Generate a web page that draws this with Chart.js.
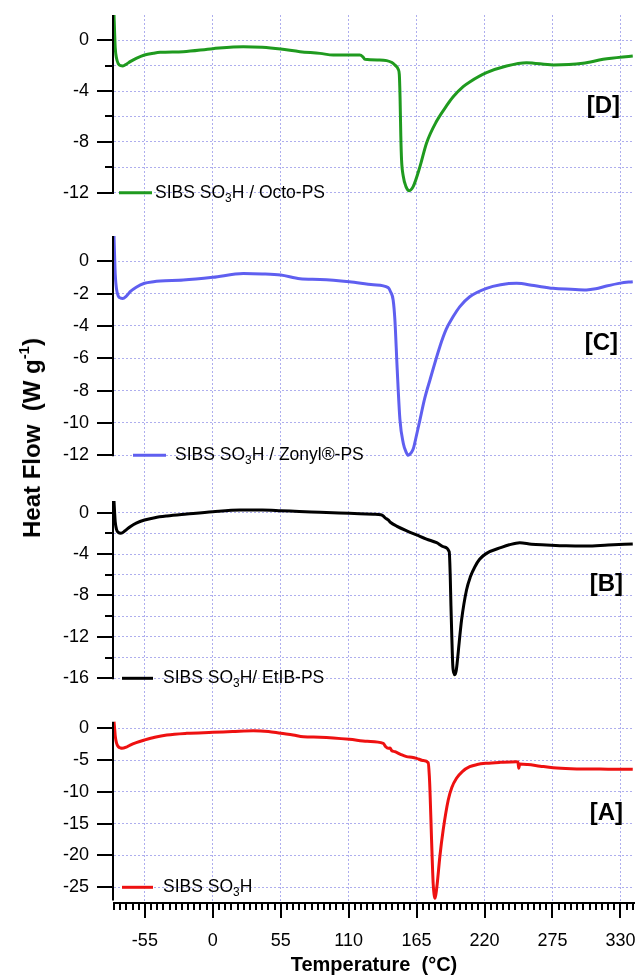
<!DOCTYPE html>
<html><head><meta charset="utf-8">
<script src="https://cdn.jsdelivr.net/npm/chart.js@4/dist/chart.umd.min.js"></script>
<style>
html,body{margin:0;padding:0;background:#fff;}
#wrap{position:relative;width:639px;height:978px;overflow:hidden;font-family:"Liberation Sans",Arial,Helvetica,sans-serif;}
canvas{position:absolute;left:0;top:0;}
.lbl{position:absolute;white-space:nowrap;color:#000;line-height:1;}
.leg{font-size:17.5px;transform:translateY(-50%);}
.leg sub{font-size:0.68em;vertical-align:-0.3em;line-height:0;}
.pan{font-size:24px;font-weight:bold;transform:translate(-100%,-50%);}
#ytitle{font-size:24px;font-weight:bold;transform:translate(-50%,-50%) rotate(-90deg);}
#ytitle sup{font-size:0.62em;vertical-align:0.75em;line-height:0;}
</style></head><body>
<div id="wrap"><canvas id="c" width="639" height="978"></canvas>
<div id="ytitle" class="lbl">Heat Flow&nbsp; (W g<sup>-1</sup>)</div>
</div>
<script>
// ---------------- DATA ----------------
const panelNames = ['[D]', '[C]', '[B]', '[A]'];
const seriesNames = [
  'SIBS SO<sub>3</sub>H / Octo-PS',
  'SIBS SO<sub>3</sub>H / Zonyl®-PS',
  'SIBS SO<sub>3</sub>H/ EtIB-PS',
  'SIBS SO<sub>3</sub>H'
];
const xTitle = 'Temperature  (°C)';
const xMajorTicks = [-55, 0, 55, 110, 165, 220, 275, 330];

// [D] SIBS SO3H / Octo-PS
const tempD = [-80,-79.5,-79,-78,-76.5,-74.5,-72.8,-70,-66.9,-62,-55.3,-48,-42.6,-24,0,24.7,40,55,70.6,86.8,97.5,119,121.5,123.2,135,140.7,145,147.4,150.2,151,151.6,152.2,152.8,154.2,156.3,159,162.3,167.7,173,181,189.3,194.6,202.7,208,221.6,237.8,254,275.5,299.7,316,340];
const heatD = [2.0,0.6,-0.6,-1.4,-1.85,-2.0,-2.02,-1.88,-1.68,-1.42,-1.16,-1.02,-0.95,-0.9,-0.66,-0.5,-0.55,-0.69,-0.9,-1.03,-1.16,-1.16,-1.3,-1.5,-1.55,-1.6,-1.75,-1.94,-2.3,-2.7,-4.5,-7.5,-9.4,-10.7,-11.5,-11.84,-11.5,-9.95,-8.1,-6.4,-5.15,-4.45,-3.65,-3.28,-2.55,-2.02,-1.76,-1.94,-1.81,-1.5,-1.24];
const yTicksD = [0,-2,-4,-6,-8,-10,-12];
const yLabelsD = [0,-4,-8,-12];

// [C] SIBS SO3H / Zonyl-PS
const tempC = [-80,-79.5,-79,-78,-76.5,-74.5,-73,-70,-66.9,-62,-55.3,-48,-42.6,-24,0,24.7,40,55,70.6,86.8,110.5,130,142,144,146,147.4,149.3,151.5,154.2,156.5,158.2,160.5,162.3,164.5,167.7,171.5,175.8,183.8,189,194.6,200,208,221.6,233,245.9,260,275.5,290,302.5,310,318.7,330,340];
const heatC = [1.56,0.3,-0.8,-1.7,-2.15,-2.28,-2.3,-2.15,-1.88,-1.6,-1.36,-1.26,-1.22,-1.16,-0.99,-0.76,-0.78,-0.85,-1.08,-1.12,-1.26,-1.45,-1.63,-1.9,-2.39,-3.6,-6.7,-9.8,-11.25,-11.8,-12.0,-11.85,-11.6,-10.9,-9.81,-8.5,-7.34,-5.28,-4.2,-3.42,-2.8,-2.19,-1.67,-1.45,-1.36,-1.5,-1.67,-1.73,-1.77,-1.7,-1.53,-1.35,-1.26];
const yTicksC = [0,-2,-4,-6,-8,-10,-12];
const yLabelsC = [0,-2,-4,-6,-8,-10,-12];

// [B] SIBS SO3H / EtIB-PS
const tempB = [-80,-79.5,-79,-78,-76.5,-74.4,-71,-66.9,-62,-55.3,-47,-37.2,-21,0,22,40,55,70,86.8,110.5,130,136,138,139.5,142,144,148.8,157,165,173,181.2,187,191.4,192.2,192.8,193.5,194.3,195.2,196,197,197.8,199.5,201.4,205.4,208.5,212.2,216,221.6,233.7,240,248.5,258,270,286,302.5,320,340];
const heatB = [1.13,0.0,-0.9,-1.6,-1.9,-1.99,-1.75,-1.35,-1.0,-0.7,-0.48,-0.32,-0.13,0.1,0.26,0.26,0.2,0.12,0.05,-0.06,-0.15,-0.2,-0.32,-0.5,-0.7,-0.95,-1.29,-1.75,-2.15,-2.55,-2.9,-3.3,-3.77,-6.0,-9.0,-12.0,-14.8,-15.5,-15.65,-15.3,-14.55,-12.5,-10.37,-7.47,-6.2,-5.22,-4.5,-3.93,-3.35,-3.1,-2.9,-3.05,-3.12,-3.2,-3.22,-3.12,-3.02];
const yTicksB = [0,-2,-4,-6,-8,-10,-12,-14,-16];
const yLabelsB = [0,-4,-8,-12,-16];

// [A] SIBS SO3H
const tempA = [-80,-79.5,-79,-78,-76.5,-74.5,-73.6,-70,-66.9,-62,-55.3,-47,-37.2,-21,0,16,32.8,45,55,65,73.3,86.8,110.5,125,138,140,142,143.5,144.8,147.4,152,156.9,161,165,170,174.4,175.3,175.8,177.1,178.4,179.2,179.8,180.5,181.7,183.8,186.5,190.6,193.5,197.3,202,208,214,221.6,233,245.9,247,247.7,248.5,255,265,275.5,290,302.5,320,340];
const heatA = [1.04,0.0,-1.2,-2.3,-2.9,-3.1,-3.14,-2.95,-2.63,-2.25,-1.84,-1.4,-1.05,-0.79,-0.63,-0.5,-0.37,-0.5,-0.79,-1.05,-1.32,-1.4,-1.73,-2.05,-2.36,-2.9,-3.14,-3.1,-3.5,-3.67,-4.1,-4.46,-4.55,-4.72,-5.05,-5.41,-7.5,-9.7,-17.5,-24.4,-26.2,-26.73,-26.2,-24.4,-20.2,-16.0,-11.27,-9.3,-7.86,-6.8,-6.04,-5.7,-5.5,-5.35,-5.25,-5.3,-6.29,-5.61,-5.7,-5.95,-6.19,-6.35,-6.4,-6.42,-6.45];
const yTicksA = [0,-5,-10,-15,-20,-25];
const yLabelsA = [0,-5,-10,-15,-20,-25];

// ---------------- LAYOUT / STYLE ----------------
const FONT = '"Liberation Sans", Arial, Helvetica, sans-serif';
const gridColor = 'rgba(160,160,235,0.85)';
const panels = [
  {axis:'yD', temp:tempD, heat:heatD, ticks:yTicksD, labels:yLabelsD, color:'#1f9a1f', min:-13.756, max:1.992, weight:200, axisTop:2.0, axisBottom:-12,
   leg:[5,38,41], panelAt:[-14,-5.1]},
  {axis:'yC', temp:tempC, heat:heatC, ticks:yTicksC, labels:yLabelsC, color:'#5f5ff0', min:-13.404, max:2.864, weight:263, axisTop:1.56, axisBottom:-12,
   leg:[19,52,61], panelAt:[-16,-5.0]},
  {axis:'yB', temp:tempB, heat:heatB, ticks:yTicksB, labels:yLabelsB, color:'#000000', min:-18.097, max:3.353, weight:222, axisTop:1.13, axisBottom:-16,
   leg:[8,39,49], panelAt:[-11,-6.8]},
  {axis:'yA', temp:tempA, heat:heatA, ticks:yTicksA, labels:yLabelsA, color:'#ee1111', min:-27.469, max:4.45, weight:203, axisTop:1.04, axisBottom:-26.9,
   leg:[8,39,49], panelAt:[-11,-13.2]}
];

const wrap = document.getElementById('wrap');
panels.forEach((p, i) => {
  const lg = document.createElement('div');
  lg.className = 'lbl leg'; lg.innerHTML = seriesNames[i]; wrap.appendChild(lg); p.legEl = lg;
  const pl = document.createElement('div');
  pl.className = 'lbl pan'; pl.textContent = panelNames[i]; wrap.appendChild(pl); p.panEl = pl;
});
const yTitleEl = document.getElementById('ytitle');

const scales = {
  x: {
    type:'linear', position:'bottom', min:-80, max:341,
    grid:{color:gridColor, lineWidth:1, drawTicks:false},
    border:{display:true, color:'#000', width:2, dash:[2,2]},
    ticks:{autoSkip:false, padding:27, color:'#000', font:{family:FONT, size:18}, maxRotation:0},
    afterBuildTicks: s => { s.ticks = xMajorTicks.map(v => ({value:v})); },
    afterFit: s => { s.height = 75; s.paddingLeft = 0; s.paddingRight = 0; },
    title:{display:true, text:xTitle, color:'#000', font:{family:FONT, size:20, weight:'bold'}, padding:{top:0, bottom:1}}
  }
};
// defined bottom panel first so the stack places it lowest
panels.slice().reverse().forEach(p => {
  scales[p.axis] = {
    type:'linear', position:'left', stack:'heat', stackWeight:p.weight, min:p.min, max:p.max,
    grid:{color:gridColor, lineWidth:1, drawTicks:false},
    border:{display:false, dash:[2,2]},
    ticks:{autoSkip:false, padding:25, color:'#000', font:{family:FONT, size:18},
      callback: v => p.labels.includes(v) ? String(v) : ''},
    afterBuildTicks: s => { s.ticks = p.ticks.map(v => ({value:v})); },
    afterFit: s => { s.width = 114; s.paddingTop = 0; s.paddingBottom = 0; }
  };
});

const decor = {
  id:'decor',
  beforeDatasetsDraw(chart){
    const ctx = chart.ctx, ca = chart.chartArea;
    ctx.save();
    ctx.lineCap = 'butt';
    panels.forEach(p => {
      const s = chart.scales[p.axis];
      ctx.strokeStyle = '#000'; ctx.lineWidth = 2;
      ctx.beginPath();
      ctx.moveTo(ca.left - 1, s.getPixelForValue(p.axisTop));
      ctx.lineTo(ca.left - 1, s.getPixelForValue(p.axisBottom) + 1);
      ctx.stroke();
      p.ticks.forEach(v => {
        const y = Math.round(s.getPixelForValue(v));
        const len = p.labels.includes(v) ? 17 : 9;
        ctx.beginPath(); ctx.moveTo(ca.left - len, y); ctx.lineTo(ca.left, y); ctx.stroke();
      });
      const ly = s.getPixelForValue(p.ticks[p.ticks.length - 1]);
      ctx.strokeStyle = p.color; ctx.lineWidth = 3;
      ctx.beginPath(); ctx.moveTo(ca.left + p.leg[0], ly); ctx.lineTo(ca.left + p.leg[1], ly); ctx.stroke();
    });
    const xs = chart.scales.x;
    ctx.strokeStyle = '#000'; ctx.lineWidth = 2;
    for (let v = -80; v <= 340; v += 5) {
      const x = Math.round(xs.getPixelForValue(v));
      const len = xMajorTicks.includes(v) ? 15 : 7;
      ctx.beginPath(); ctx.moveTo(x, ca.bottom); ctx.lineTo(x, ca.bottom + len); ctx.stroke();
    }
    ctx.restore();
  },
  afterDraw(chart){
    const ca = chart.chartArea;
    panels.forEach(p => {
      const s = chart.scales[p.axis];
      const ly = s.getPixelForValue(p.ticks[p.ticks.length - 1]);
      p.legEl.style.left = (ca.left + p.leg[2]) + 'px';
      p.legEl.style.top = ly + 'px';
      p.panEl.style.left = (ca.right + p.panelAt[0]) + 'px';
      p.panEl.style.top = s.getPixelForValue(p.panelAt[1]) + 'px';
    });
    yTitleEl.style.left = '32px';
    yTitleEl.style.top = '438px';
  }
};

new Chart(document.getElementById('c'), {
  type:'line',
  data:{
    datasets: panels.map((p, i) => ({
      label: seriesNames[i].replace(/<\/?sub>/g, ''),
      yAxisID: p.axis, xAxisID: 'x',
      data: p.temp.map((t, k) => ({x:t, y:p.heat[k]})),
      borderColor: p.color, borderWidth: 3, pointRadius: 0,
      cubicInterpolationMode: 'monotone', fill: false
    }))
  },
  options:{
    responsive:false, devicePixelRatio:1, animation:false, events:[],
    layout:{padding:{left:0, right:5, top:15, bottom:0}},
    plugins:{legend:{display:false}, tooltip:{enabled:false}},
    scales
  },
  plugins:[decor]
});
</script>
</body></html>
